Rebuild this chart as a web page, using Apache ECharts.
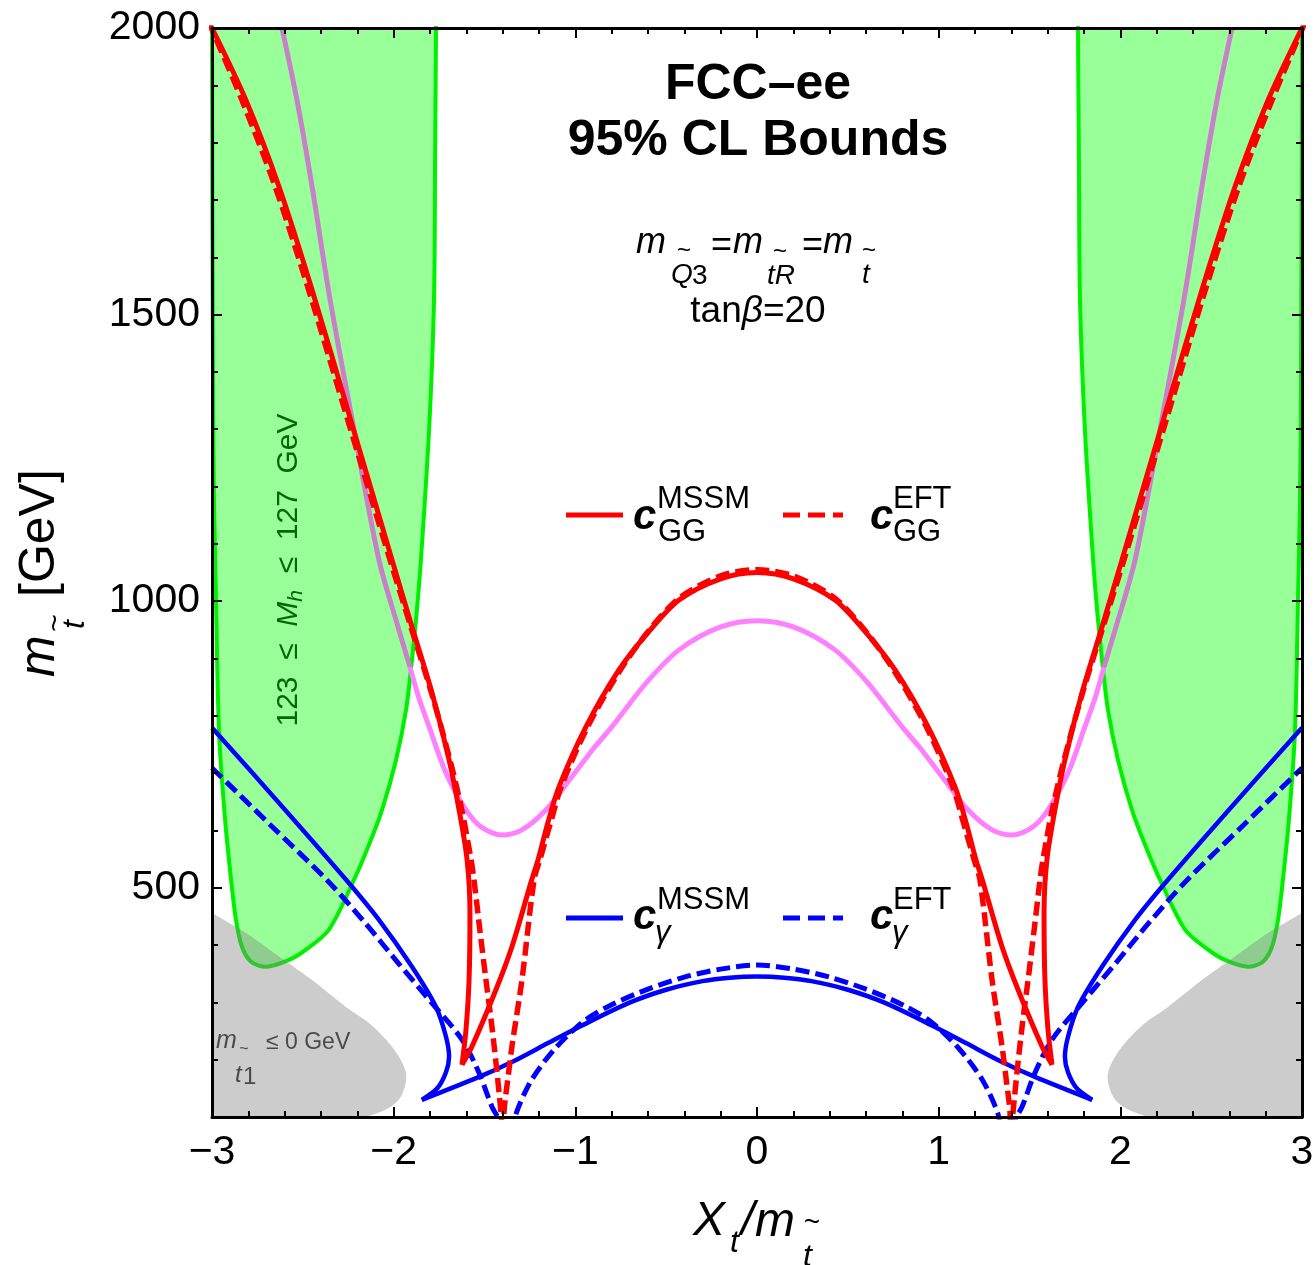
<!DOCTYPE html>
<html><head><meta charset="utf-8">
<script src="https://cdn.jsdelivr.net/npm/echarts@6/dist/echarts.min.js"></script>
<style>html,body{margin:0;padding:0;background:#fff}#c{width:1316px;height:1265px}</style>
</head><body><div id="c"></div>
<script>
// ---------- axis ticks ----------
const xTicks = [-3, -2, -1, 0, 1, 2, 3];
const yMajorTicks = [500, 1000, 1500, 2000];

// ---------- c_GG MSSM (solid red) ----------
const ggMssmLeft = [[-3.00,2000],[-2.813,1874],[-2.631,1723],[-2.449,1543],[-2.229,1308],[-2.009,1072],[-1.899,955],[-1.789,840],[-1.695,723],[-1.640,636],[-1.596,549],[-1.580,456],[-1.585,339],[-1.602,252],[-1.624,191]];
const ggMssmMid = [[-1.624,191],[-1.569,223],[-1.437,322],[-1.349,397],[-1.240,514],[-1.205,549],[-1.150,615],[-1.090,676],[-0.941,781],[-0.760,880],[-0.600,945],[-0.429,1002],[-0.200,1039],[0,1050],[0.200,1039],[0.429,1002],[0.600,945],[0.760,880],[0.941,781],[1.090,676],[1.150,615],[1.205,549],[1.240,514],[1.349,397],[1.437,322],[1.569,223],[1.624,191]];
const ggMssmRight = [[1.624,191],[1.602,252],[1.585,339],[1.580,456],[1.596,549],[1.640,636],[1.695,723],[1.789,840],[1.899,955],[2.009,1072],[2.229,1308],[2.449,1543],[2.631,1723],[2.813,1874],[3.00,2000]];

// ---------- c_GG EFT (dashed red) ----------
const ggEftLeft = [[-3.02,2012],[-2.835,1874],[-2.652,1723],[-2.468,1543],[-2.245,1308],[-2.020,1072],[-1.905,955],[-1.792,840],[-1.690,723],[-1.625,636],[-1.574,549],[-1.558,514],[-1.525,425],[-1.492,339],[-1.462,265],[-1.437,195],[-1.409,107],[-1.400,70]];
const ggEftMid = [[-1.395,70],[-1.393,107],[-1.372,165],[-1.349,223],[-1.294,339],[-1.227,514],[-1.195,549],[-1.135,615],[-1.078,676],[-0.932,781],[-0.752,880],[-0.597,948],[-0.425,1006],[-0.200,1044],[0,1055],[0.200,1044],[0.425,1006],[0.597,948],[0.752,880],[0.932,781],[1.078,676],[1.135,615],[1.195,549],[1.227,514],[1.294,339],[1.349,223],[1.372,165],[1.393,107],[1.395,70]];
const ggEftRight = [[1.400,70],[1.409,107],[1.437,195],[1.462,265],[1.492,339],[1.525,425],[1.558,514],[1.574,549],[1.625,636],[1.690,723],[1.792,840],[1.905,955],[2.020,1072],[2.245,1308],[2.468,1543],[2.652,1723],[2.835,1874],[3.02,2012]];

// ---------- violet curve ----------
const violetLeftIn = [[-2.615,2000],[-2.532,1874],[-2.449,1723],[-2.350,1526],[-2.218,1299],[-2.081,1072],[-1.976,955],[-1.910,885]];
const violetMid = [[-1.910,885],[-1.860,830],[-1.805,781],[-1.712,700],[-1.602,636],[-1.514,605],[-1.404,592],[-1.294,601],[-1.161,636],[-1.018,694],[-0.900,743],[-0.798,781],[-0.611,857],[-0.429,915],[-0.200,955],[0,966],[0.200,955],[0.429,915],[0.611,857],[0.798,781],[0.900,743],[1.018,694],[1.161,636],[1.294,601],[1.404,592],[1.514,605],[1.602,636],[1.712,700],[1.805,781],[1.860,830],[1.910,885]];
const violetRightIn = [[1.910,885],[1.976,955],[2.081,1072],[2.218,1299],[2.350,1526],[2.449,1723],[2.532,1874],[2.615,2000]];

// ---------- c_gamma MSSM (solid blue) ----------
const gaMssmLeft = [[-3.00,779],[-2.631,648],[-2.262,514],[-2.081,444],[-1.899,362],[-1.767,292],[-1.712,240],[-1.695,205],[-1.712,178],[-1.760,150],[-1.845,130]];
const gaMssmMid = [[-1.845,130],[-1.530,170],[-1.349,196],[-1.150,229],[-0.980,257],[-0.705,299],[-0.500,322],[-0.300,337],[-0.150,343],[0,345],[0.150,343],[0.300,337],[0.500,322],[0.705,299],[0.980,257],[1.150,229],[1.349,196],[1.530,170],[1.845,130]];
const gaMssmRight = [[1.845,130],[1.760,150],[1.712,178],[1.695,205],[1.712,240],[1.767,292],[1.899,362],[2.081,444],[2.262,514],[2.631,648],[3.00,779]];

// ---------- c_gamma EFT (dashed blue) ----------
const gaEftLeft = [[-3.00,709],[-2.680,610],[-2.360,511],[-2.158,439],[-1.976,369],[-1.790,299],[-1.624,235],[-1.530,177],[-1.459,118],[-1.420,95],[-1.405,75]];
const gaEftMid = [[-1.345,70],[-1.325,107],[-1.240,165],[-1.110,220],[-0.950,268],[-0.800,296],[-0.600,323],[-0.400,344],[-0.200,358],[0,365],[0.200,358],[0.400,344],[0.600,323],[0.800,296],[0.950,268],[1.110,220],[1.240,165],[1.325,107],[1.345,70]];
const gaEftRight = [[1.405,75],[1.420,95],[1.459,118],[1.530,177],[1.624,235],[1.790,299],[1.976,369],[2.158,439],[2.360,511],[2.680,610],[3.00,709]];

// ---------- 123 <= Mh <= 127 GeV regions (green) ----------
const greenLeft = [[-1.766,2080],[-1.767,2000],[-1.772,1770],[-1.778,1526],[-1.805,1299],[-1.850,1072],[-1.872,985],[-1.899,898],[-1.932,810],[-1.987,723],[-2.064,636],[-2.136,575],[-2.218,514],[-2.356,427],[-2.483,392],[-2.576,374],[-2.703,362],[-2.785,371],[-2.835,397],[-2.868,444],[-2.895,514],[-2.928,619],[-2.961,770],[-2.978,1002],[-2.989,1177],[-2.994,1351],[-3.0,2000],[-3.0,2080]];
const greenRight = [[1.766,2080],[1.767,2000],[1.772,1770],[1.778,1526],[1.805,1299],[1.850,1072],[1.872,985],[1.899,898],[1.932,810],[1.987,723],[2.064,636],[2.136,575],[2.218,514],[2.356,427],[2.483,392],[2.576,374],[2.703,362],[2.785,371],[2.835,397],[2.868,444],[2.895,514],[2.928,619],[2.961,770],[2.978,1002],[2.989,1177],[2.994,1351],[3.0,2000],[3.0,2080]];

// ---------- m_stop1 <= 0 regions (gray) ----------
const grayLeft = [[-3.10,475],[-3.0,456],[-2.813,421],[-2.631,380],[-2.449,339],[-2.262,292],[-2.136,264],[-2.042,235],[-1.971,205],[-1.932,177],[-1.938,153],[-1.971,130],[-2.042,113],[-2.152,100],[-2.30,80],[-3.10,40]];
const grayRight = [[3.10,475],[3.0,456],[2.813,421],[2.631,380],[2.449,339],[2.262,292],[2.136,264],[2.042,235],[1.971,205],[1.932,177],[1.938,153],[1.971,130],[2.042,113],[2.152,100],[2.30,80],[3.10,40]];

// ---------- helpers ----------
const FONT = '"Liberation Sans", Arial, Helvetica, sans-serif';
function f(size, style, weight) { return (style || 'normal') + ' ' + (weight || 'normal') + ' ' + size + 'px ' + FONT; }
function txt(x, y, text, font, color, align) {
  const a = align || 'left';
  return { type: 'text', x: x, y: y, z: 100, silent: true,
    style: { text: text, font: font, fill: color || '#000', align: a, verticalAlign: 'middle', textAlign: a, textVerticalAlign: 'middle' } };
}
function seg(x1, y1, x2, y2, color, w, dash) {
  return { type: 'line', z: 100, silent: true, shape: { x1: x1, y1: y1, x2: x2, y2: y2 },
    style: { stroke: color, lineWidth: w, lineDash: dash || null } };
}
function poly(arr, fill, z) {
  return { type: 'custom', coordinateSystem: 'cartesian2d', data: arr, clip: true, z: z, silent: true,
    renderItem: function (params, api) {
      if (params.dataIndex !== 0) return { type: 'group', children: [] };
      return { type: 'polygon', shape: { points: arr.map(function (p) { return api.coord(p); }), smooth: 0.3 }, style: { fill: fill, stroke: null } };
    } };
}
function line(arr, color, width, dashed, z) {
  return { type: 'line', data: arr, showSymbol: false, symbol: 'none', smooth: 0.3, clip: true, z: z, silent: true,
    lineStyle: { color: color, width: width, type: dashed ? [14, 6] : 'solid', cap: 'butt', join: 'round' } };
}

const RED = '#ff0000', BLUE = '#0000ff', GREEN = '#00f000';
const series = [
  poly(greenLeft, 'rgba(0,255,0,0.4)', 1),
  poly(greenRight, 'rgba(0,255,0,0.4)', 1),
  line(greenLeft, GREEN, 4, false, 2),
  line(greenRight, GREEN, 4, false, 2),
  poly(grayLeft, 'rgba(128,128,128,0.4)', 3),
  poly(grayRight, 'rgba(128,128,128,0.4)', 3),
  line(violetLeftIn, '#c880c8', 5, false, 4),
  line(violetMid, '#ff80ff', 5, false, 4),
  line(violetRightIn, '#c880c8', 5, false, 4),
  line(gaMssmLeft, BLUE, 4.5, false, 5),
  line(gaMssmMid, BLUE, 4.5, false, 5),
  line(gaMssmRight, BLUE, 4.5, false, 5),
  line(gaEftLeft, BLUE, 5, true, 5),
  line(gaEftMid, BLUE, 5, true, 5),
  line(gaEftRight, BLUE, 5, true, 5),
  line(ggMssmLeft, RED, 5, false, 6),
  line(ggMssmMid, RED, 5, false, 6),
  line(ggMssmRight, RED, 5, false, 6),
  line(ggEftLeft, RED, 5.5, true, 6),
  line(ggEftMid, RED, 5.5, true, 6),
  line(ggEftRight, RED, 5.5, true, 6)
];

function xAx(pos, labels) {
  return { type: 'value', min: xTicks[0], max: xTicks[xTicks.length - 1], interval: 1, position: pos, z: 10,
    axisLine: { show: true, onZero: false, lineStyle: { color: '#000', width: 3 } },
    axisTick: { show: true, inside: true, length: 10, lineStyle: { color: '#000', width: 2 } },
    minorTick: { show: true, splitNumber: 5, length: 6, lineStyle: { color: '#000', width: 2 } },
    splitLine: { show: false }, minorSplitLine: { show: false },
    axisLabel: { show: labels, fontSize: 41, fontFamily: FONT, color: '#000', margin: 15,
      formatter: function (v) { return v < 0 ? '\u2212' + (-v) : String(v); } } };
}
function yAx(pos, labels, major) {
  const ax = { type: 'value', min: 100, max: 2000, interval: 100, position: pos, z: 10,
    axisLine: { show: !major, onZero: false, lineStyle: { color: '#000', width: 3 } },
    axisTick: { show: true, inside: true, length: major ? 10 : 6, lineStyle: { color: '#000', width: 2 } },
    splitLine: { show: false },
    axisLabel: { show: labels, fontSize: 41, fontFamily: FONT, color: '#000', margin: 12,
      formatter: function (v) { return yMajorTicks.indexOf(v) >= 0 ? String(v) : ''; } } };
  if (major) ax.axisTick.customValues = yMajorTicks;
  return ax;
}

// ---------- annotations ----------
const G = [];
G.push(txt(758, 85, 'FCC\u2013ee', f(50, 'normal', 'bold'), '#000', 'center'));
G.push(txt(758, 141, '95% CL Bounds', f(50, 'normal', 'bold'), '#000', 'center'));
// m_Q3 = m_tR = m_t
G.push(txt(636, 243, 'm', f(36, 'italic')));
G.push(txt(671, 275, 'Q', f(28, 'italic')));
G.push(txt(692, 276, '3', f(28)));
G.push(txt(684, 251, '~', f(24), '#000', 'center'));
G.push(txt(711, 246, '=', f(36)));
G.push(txt(733, 243, 'm', f(36, 'italic')));
G.push(txt(767, 276, 'tR', f(28, 'italic')));
G.push(txt(780, 252, '~', f(24), '#000', 'center'));
G.push(txt(802, 246, '=', f(36)));
G.push(txt(823, 243, 'm', f(36, 'italic')));
G.push(txt(862, 275, 't', f(28, 'italic')));
G.push(txt(869, 251, '~', f(24), '#000', 'center'));
G.push({ type: 'text', x: 758, y: 312, z: 100, silent: true, style: {
  text: '{a|tan}{b|\u03b2}{a|=20}', align: 'center', verticalAlign: 'middle', textAlign: 'center', textVerticalAlign: 'middle',
  rich: { a: { fontSize: 37, fontFamily: FONT, fill: '#000', color: '#000' },
          b: { fontSize: 37, fontFamily: FONT, fontStyle: 'italic', fill: '#000', color: '#000' } } } });
// legend red
G.push(seg(566, 515, 623, 515, RED, 5));
G.push(txt(633, 517, 'c', f(42, 'italic', 'bold')));
G.push(txt(657, 499, 'MSSM', f(31)));
G.push(txt(658, 532, 'GG', f(31)));
G.push(seg(783, 515, 843, 515, RED, 5, [17, 8]));
G.push(txt(870, 517, 'c', f(42, 'italic', 'bold')));
G.push(txt(893, 499, 'EFT', f(31)));
G.push(txt(893, 532, 'GG', f(31)));
// legend blue
G.push(seg(566, 918, 623, 918, BLUE, 5));
G.push(txt(633, 917, 'c', f(42, 'italic', 'bold')));
G.push(txt(657, 900, 'MSSM', f(31)));
G.push(txt(655, 933, '\u03b3', f(31, 'italic')));
G.push(seg(783, 918, 843, 918, BLUE, 5, [17, 8]));
G.push(txt(870, 917, 'c', f(42, 'italic', 'bold')));
G.push(txt(893, 900, 'EFT', f(31)));
G.push(txt(892, 933, '\u03b3', f(31, 'italic')));
// green rotated label
G.push({ type: 'text', x: 289, y: 570, rotation: Math.PI / 2, z: 100, silent: true, style: {
  text: '{a|123  \u2264  }{i|M}{s|h}{a|  \u2264  127  GeV}', align: 'center', verticalAlign: 'middle', textAlign: 'center', textVerticalAlign: 'middle',
  rich: { a: { fontSize: 30, fontFamily: FONT, fill: '#006a00', color: '#006a00', lineHeight: 32, verticalAlign: 'middle' },
          i: { fontSize: 30, fontFamily: FONT, fontStyle: 'italic', fill: '#006a00', color: '#006a00', lineHeight: 32, verticalAlign: 'middle' },
          s: { fontSize: 21, fontFamily: FONT, fontStyle: 'italic', fill: '#006a00', color: '#006a00', lineHeight: 21, padding: [14, 0, 0, 0], verticalAlign: 'middle' } } } });
// gray label
G.push(txt(216, 1041, 'm', f(25, 'italic'), '#4a4a4a'));
G.push(txt(235, 1075, 't', f(24, 'italic'), '#4a4a4a'));
G.push(txt(243, 1077, '1', f(24), '#4a4a4a'));
G.push(txt(244, 1050, '~', f(16), '#4a4a4a', 'center'));
G.push(txt(266, 1043, '\u2264 0 GeV', f(23), '#4a4a4a'));
// y axis title (rotated)
G.push({ type: 'group', x: 48, y: 582, rotation: Math.PI / 2, children: [
  txt(-95, -8, 'm', f(50, 'italic')),
  txt(-41, 8, '~', f(30), '#000', 'center'),
  txt(-47, 27, 't', f(32, 'italic')),
  txt(-15, -8, '[GeV]', f(50))
] });
// x axis title
G.push(txt(693, 1222, 'X', f(48, 'italic')));
G.push(txt(730, 1243, 't', f(32, 'italic')));
G.push(txt(741, 1222, '/', f(48, 'italic')));
G.push(txt(755, 1223, 'm', f(48, 'italic')));
G.push(txt(803, 1257, 't', f(32, 'italic')));
G.push(txt(812, 1223, '~', f(28), '#000', 'center'));

const chart = echarts.init(document.getElementById('c'), null, { renderer: 'canvas' });
chart.setOption({
  animation: false,
  backgroundColor: '#ffffff',
  textStyle: { fontFamily: FONT },
  grid: { left: 212, top: 28, right: 14, bottom: 148, containLabel: false, outerBoundsMode: 'none', show: false },
  xAxis: [xAx('bottom', true), xAx('top', false)],
  yAxis: [yAx('left', true, false), yAx('right', false, false), yAx('left', false, true), yAx('right', false, true)],
  series: series,
  graphic: { elements: G }
});
</script></body></html>
